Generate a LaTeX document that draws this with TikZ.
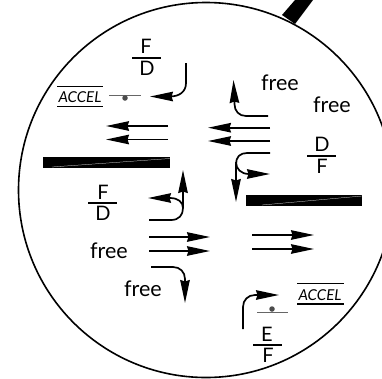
\documentclass[tikz,border=0pt]{standalone}
\usepackage{fontspec}
\setmainfont{Lato}
\usetikzlibrary{arrows.meta}

\tikzset{
    flow/.style={line width=1.7pt, -{Stealth[length=23pt,width=9.5pt,inset=1.5pt]}},
    label/.style={inner sep=0pt, font=\fontsize{21.5}{22}\selectfont},
    letter/.style={inner sep=0pt, font=\fontsize{20}{20}\selectfont},
    accel/.style={inner sep=0pt, font=\fontsize{15}{15}\selectfont\itshape},
    wall/.style={fill=black, draw=none},
    seam/.style={white, line width=0.25pt},
    bar/.style={line width=1.3pt},
    stopline/.style={line width=0.9pt, black!60},
    stopdot/.style={circle, fill=black!70, minimum size=5.5pt, inner sep=0pt}
}

\begin{document}
\begin{tikzpicture}[x=1pt,y=-1pt]

    \useasboundingbox (0,0) rectangle (382,378);
    \clip (0,0) rectangle (382,378);

    % lens and handle
    \fill (282,15) -- (295,24) -- (313,0) -- (295,0) -- cycle;
    \draw[line width=1.6pt] (206,190) circle (187.5);

    % walls
    \fill[wall] (43,157) rectangle (170,168);
    \draw[seam] (52,167) -- (170,158.5);
    \fill[wall] (246,195) rectangle (362,206);
    \draw[seam] (262,205) -- (362,196);

    % upper left
    \node[letter] (f_a) at (146,46) {F};
    \node[letter] (d_a) at (147,68) {D};
    \coordinate (fa_l) at (132,58);
    \coordinate (fa_r) at (161,58);
    \draw[bar] (fa_l) -- (fa_r);

    \coordinate (ta_s) at (186,63);
    \coordinate (ta_e) at (150,96.5);
    \draw[flow] (ta_s) -- (186,83) .. controls (186,92) and (179,96.5) .. (170,96.5) -- (ta_e);

    \node[accel] (accel_a) at (80,97) {ACCEL};
    \coordinate (oa_l) at (57,86.3);
    \coordinate (oa_r) at (103,86.3);
    \coordinate (ua_l) at (57,106.5);
    \coordinate (ua_r) at (103,106.5);
    \draw[bar] (oa_l) -- (oa_r);
    \draw[bar] (ua_l) -- (ua_r);

    \coordinate (sa_l) at (109,95.7);
    \coordinate (sa_r) at (141,95.7);
    \draw[stopline] (sa_l) -- (sa_r);
    \node[stopdot] (dot_a) at (125,98) {};

    \coordinate (la_s) at (168,126);
    \coordinate (la_e) at (106,126);
    \coordinate (lb_s) at (168,139.5);
    \coordinate (lb_e) at (106,139.5);
    \draw[flow] (la_s) -- (la_e);
    \draw[flow] (lb_s) -- (lb_e);

    % upper right
    \node[label] (free_a) at (280,83) {free};
    \node[label] (free_b) at (332,105) {free};

    \coordinate (ub_s) at (268,116);
    \coordinate (ub_e) at (233.5,80);
    \draw[flow] (ub_s) -- (246,116) .. controls (239,116) and (234.5,111) .. (234.5,104) -- (ub_e);

    \coordinate (lc_s) at (270,127.7);
    \coordinate (lc_e) at (208,127.7);
    \coordinate (ld_s) at (270,141);
    \coordinate (ld_e) at (208,141);
    \draw[flow] (lc_s) -- (lc_e);
    \draw[flow] (ld_s) -- (ld_e);

    \coordinate (dc_s) at (270,153);
    \coordinate (dc_e) at (236,202);
    \coordinate (rc_e) at (270,174);
    \draw[flow] (dc_s) -- (247,153) .. controls (240,153) and (236,157) .. (236,164) -- (dc_e);
    \draw[flow] (236,162) .. controls (236,169) and (241,174) .. (249,174) -- (rc_e);

    \node[letter] (d_b) at (322,144) {D};
    \node[letter] (f_b) at (322,166) {F};
    \coordinate (fb_l) at (307,156);
    \coordinate (fb_r) at (336,156);
    \draw[bar] (fb_l) -- (fb_r);

    % lower left
    \node[letter] (f_c) at (103,192) {F};
    \node[letter] (d_c) at (103,213) {D};
    \coordinate (fc_l) at (88,203);
    \coordinate (fc_r) at (117,203);
    \draw[bar] (fc_l) -- (fc_r);

    \coordinate (ue_s) at (149,220);
    \coordinate (ue_e) at (183,170);
    \coordinate (le_e) at (148,198);
    \draw[flow] (ue_s) -- (171,220) .. controls (179,220) and (183,215) .. (183,208) -- (ue_e);
    \draw[flow] (183,208) .. controls (183,202) and (178,198) .. (170,198) -- (le_e);

    \coordinate (ra_s) at (149,237);
    \coordinate (ra_e) at (210,237);
    \coordinate (rb_s) at (149,251);
    \coordinate (rb_e) at (210,251);
    \draw[flow] (ra_s) -- (ra_e);
    \draw[flow] (rb_s) -- (rb_e);

    \node[label] (free_c) at (109,251) {free};
    \node[label] (free_d) at (143,289) {free};

    \coordinate (df_s) at (151,267);
    \coordinate (df_e) at (185,303);
    \draw[flow] (df_s) -- (173,267) .. controls (180,267) and (185,272) .. (185,279) -- (df_e);

    % lower right
    \coordinate (rc_s) at (252,235);
    \coordinate (rd_e) at (314,235);
    \coordinate (re_s) at (252,249);
    \coordinate (re_e) at (314,249);
    \draw[flow] (rc_s) -- (rd_e);
    \draw[flow] (re_s) -- (re_e);

    \coordinate (ug_s) at (243,329);
    \coordinate (ug_e) at (279,295);
    \draw[flow] (ug_s) -- (243,307) .. controls (243,300) and (248,295) .. (255,295) -- (ug_e);

    \coordinate (sb_l) at (257,312);
    \coordinate (sb_r) at (288,312);
    \draw[stopline] (sb_l) -- (sb_r);
    \node[stopdot] (dot_b) at (272,309) {};

    \node[accel] (accel_b) at (320,295) {ACCEL};
    \coordinate (ob_l) at (297,283.5);
    \coordinate (ob_r) at (344,283.5);
    \coordinate (ub_l) at (297,304);
    \coordinate (ub_r) at (344,304);
    \draw[bar] (ob_l) -- (ob_r);
    \draw[bar] (ub_l) -- (ub_r);

    \node[letter] (e_d) at (267,334) {E};
    \node[letter] (f_d) at (268,355) {F};
    \coordinate (fd_l) at (253,345);
    \coordinate (fd_r) at (282,345);
    \draw[bar] (fd_l) -- (fd_r);

\end{tikzpicture}
\end{document}
